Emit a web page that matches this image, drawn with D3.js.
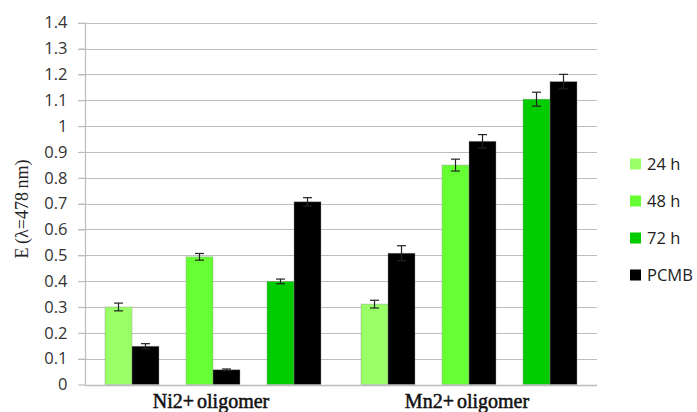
<!DOCTYPE html>
<html>
<head>
<meta charset="utf-8">
<script src="https://cdn.jsdelivr.net/npm/d3@7"></script>
<style>
  html, body { margin: 0; padding: 0; background: #fff; }
  svg { display: block; }
</style>
</head>
<body>
<svg id="chart" width="697" height="412"></svg>
<script>
// ---- Data ----
const categories = ["Ni2+ oligomer", "Mn2+ oligomer"];
const slots = ["24 h", "PCMB a", "gap a", "48 h", "PCMB b", "gap b", "72 h", "PCMB c"];
const barSlots = ["24 h", "PCMB a", "48 h", "PCMB b", "72 h", "PCMB c"];
const barSeries = ["24 h", "PCMB", "48 h", "PCMB", "72 h", "PCMB"];
const niValues = [0.30, 0.148, 0.494, 0.057, 0.399, 0.707];
const niErrors = [0.015, 0.010, 0.013, 0.003, 0.009, 0.016];
const mnValues = [0.311, 0.508, 0.849, 0.941, 1.104, 1.172];
const mnErrors = [0.015, 0.029, 0.023, 0.026, 0.027, 0.028];
const legendLabels = ["24 h", "48 h", "72 h", "PCMB"];
const legendColors = ["#99FF66", "#66FF33", "#00CC00", "#000000"];
const yTicks = [0, 0.1, 0.2, 0.3, 0.4, 0.5, 0.6, 0.7, 0.8, 0.9, 1, 1.1, 1.2, 1.3, 1.4];
const yTitle = "E (\u03bb=478 nm)";

(function () {
const seriesColor = d3.scaleOrdinal().domain(legendLabels).range(legendColors);

const rows = [];
[niValues, mnValues].forEach((vals, ci) => {
  const errs = ci === 0 ? niErrors : mnErrors;
  vals.forEach((v, i) => rows.push({
    cat: categories[ci], slot: barSlots[i], series: barSeries[i], value: v, err: errs[i]
  }));
});

// ---- Layout ----
const svg = d3.select("#chart");
const pL = 85, pR = 597, pT = 22.7, pB = 384.5;

const x0 = d3.scaleBand().domain(categories).range([pL, pR]).paddingInner(0).paddingOuter(0);
const x1 = d3.scaleBand().domain(slots).range([0, x0.bandwidth() * 216 / 256]);
const clusterOffset = (x0.bandwidth() - x1.range()[1]) / 2;
const y = d3.scaleLinear().domain([0, 1.4]).range([pB, pT]);

// gridlines
svg.append("g").selectAll("line").data(yTicks.filter(t => t > 0)).join("line")
  .attr("x1", pL - 7).attr("x2", pR)
  .attr("y1", d => Math.round(y(d)) + 0.5).attr("y2", d => Math.round(y(d)) + 0.5)
  .attr("stroke", "#BDBDBD").attr("stroke-width", 1.2);

// y axis
const yAxis = d3.axisLeft(y).tickValues(yTicks).tickSize(7).tickPadding(11)
  .tickFormat(d => String(+d.toFixed(1)));
const gy = svg.append("g").attr("transform", `translate(${pL + 0.5},0)`).call(yAxis);
gy.select(".domain").attr("stroke", "#BDBDBD").attr("stroke-width", 1.2).attr("d", `M0,${pT}V${pB}`);
gy.selectAll(".tick line").attr("stroke", "#BDBDBD").attr("stroke-width", 1.2);
gy.selectAll(".tick text").attr("font-family", "'Open Sans', 'Liberation Sans', sans-serif")
  .attr("font-size", 16.5).attr("fill", "#333");

// bars
const bars = svg.append("g");
bars.selectAll("rect").data(rows).join("rect")
  .attr("x", d => x0(d.cat) + clusterOffset + x1(d.slot))
  .attr("y", d => y(d.value))
  .attr("width", x1.bandwidth())
  .attr("height", d => y(0) - y(d.value))
  .attr("fill", d => seriesColor(d.series))
  .attr("stroke", "rgba(150,150,150,0.5)").attr("stroke-width", 0.8);

// x axis line
svg.append("line").attr("x1", pL).attr("x2", pR)
  .attr("y1", Math.round(pB) + 0.5).attr("y2", Math.round(pB) + 0.5)
  .attr("stroke", "#BDBDBD").attr("stroke-width", 1.5);

// error bars
const eg = svg.append("g").attr("stroke", "#222").attr("stroke-width", 1.2);
rows.forEach(d => {
  const cx = x0(d.cat) + clusterOffset + x1(d.slot) + x1.bandwidth() / 2;
  const y1 = y(d.value + d.err), y2 = y(d.value - d.err);
  eg.append("line").attr("x1", cx).attr("x2", cx).attr("y1", y1).attr("y2", y2);
  eg.append("line").attr("x1", cx - 4.5).attr("x2", cx + 4.5).attr("y1", y1).attr("y2", y1);
  eg.append("line").attr("x1", cx - 4.5).attr("x2", cx + 4.5).attr("y1", y2).attr("y2", y2);
});

// category labels
svg.append("g").selectAll("text").data(categories).join("text")
  .attr("x", d => x0(d) + x0.bandwidth() / 2 - 2)
  .attr("y", 408)
  .attr("text-anchor", "middle")
  .attr("font-family", "'Liberation Serif', 'DejaVu Serif', serif")
  .attr("font-size", 20)
  .attr("fill", "#111")
  .attr("stroke", "#111").attr("stroke-width", 0.5)
  .attr("word-spacing", -2)
  .text(d => d);

// y title
svg.append("text")
  .attr("transform", "translate(28,209) rotate(-90)")
  .attr("text-anchor", "middle")
  .attr("font-family", "'Liberation Serif', 'DejaVu Serif', serif")
  .attr("font-size", 18)
  .attr("fill", "#222")
  .attr("word-spacing", -1)
  .text(yTitle);

// legend
const lg = svg.append("g").attr("transform", "translate(630,164)");
const li = lg.selectAll("g").data(legendLabels).join("g")
  .attr("transform", (d, i) => `translate(0,${i * 37})`);
li.append("rect").attr("x", 0).attr("y", -5.5).attr("width", 11).attr("height", 11)
  .attr("fill", d => seriesColor(d));
li.append("text").attr("x", 17).attr("y", 6)
  .attr("font-family", "'Open Sans', 'Liberation Sans', sans-serif")
  .attr("font-size", 16.5).attr("fill", "#222")
  .text(d => d);
})();
</script>
</body>
</html>
